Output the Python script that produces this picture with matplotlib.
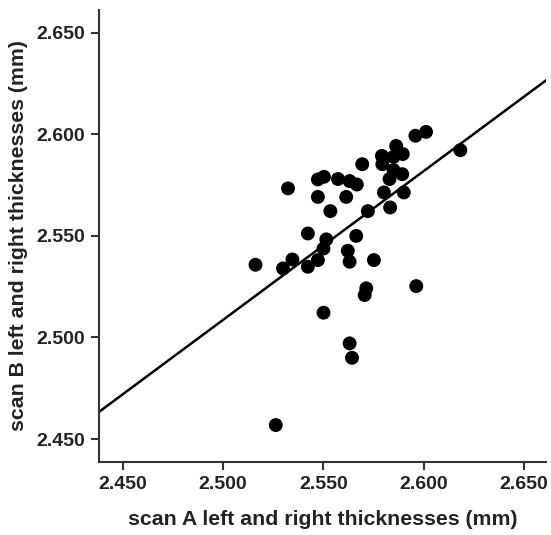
import matplotlib
matplotlib.use('Agg')
import matplotlib.pyplot as plt
import numpy as np

# scan A / scan B mean left-right thickness (mm)
scan_a = [2.5162, 2.5263, 2.5299, 2.5324, 2.5346, 2.5423, 2.5423, 2.5473,
          2.5503, 2.5473, 2.5473, 2.5501, 2.5515, 2.5501, 2.5535, 2.5573,
          2.5614, 2.5631, 2.5667, 2.5622, 2.5631, 2.5664, 2.5631, 2.5643,
          2.5694, 2.5722, 2.5714, 2.5706, 2.5752, 2.5792, 2.5794, 2.5802,
          2.5833, 2.5830, 2.5850, 2.5893, 2.5850, 2.5863, 2.5896, 2.5901,
          2.5959, 2.6012, 2.5963, 2.6183]
scan_b = [2.5358, 2.4569, 2.5340, 2.5734, 2.5384, 2.5512, 2.5348, 2.5778,
          2.5791, 2.5692, 2.5381, 2.5438, 2.5483, 2.5122, 2.5622, 2.5780,
          2.5692, 2.5770, 2.5753, 2.5427, 2.5373, 2.5500, 2.4971, 2.4900,
          2.5853, 2.5622, 2.5242, 2.5209, 2.5381, 2.5894, 2.5853, 2.5714,
          2.5640, 2.5780, 2.5824, 2.5804, 2.5889, 2.5943, 2.5903, 2.5714,
          2.5993, 2.6012, 2.5253, 2.5922]

# fit line as drawn in the reference
fit_slope = 0.7325
fit_intercept = 0.6774

ticks = [2.450, 2.500, 2.550, 2.600, 2.650]
x_lim = (2.4382, 2.661)
y_lim = (2.4387, 2.6612)

plt.rcParams['font.family'] = ['Liberation Sans', 'DejaVu Sans']
plt.rcParams['font.weight'] = 'bold'

fig = plt.figure(figsize=(5.51, 5.35), dpi=100)
ax = fig.add_axes([0.1797, 0.1364, 0.8113, 0.8449])

ax.scatter(scan_a, scan_b, s=100, color='black', edgecolors='none', zorder=3)

xs = np.array(x_lim)
ax.plot(xs, fit_intercept + fit_slope * xs, color='black', linewidth=1.8, zorder=2)

ax.set_xlim(*x_lim)
ax.set_ylim(*y_lim)
ax.set_xticks(ticks)
ax.set_yticks(ticks)
ax.set_xticklabels([f"{t:.3f}" for t in ticks])
ax.set_yticklabels([f"{t:.3f}" for t in ticks])

for side in ['top', 'right']:
    ax.spines[side].set_visible(False)
for side in ['left', 'bottom']:
    ax.spines[side].set_color('#333333')
    ax.spines[side].set_linewidth(1.5)

ax.tick_params(direction='out', length=6, width=1.5, color='#333333',
               labelsize=14, labelcolor='#222222', pad=4)
for lbl in ax.get_xticklabels() + ax.get_yticklabels():
    lbl.set_fontweight('bold')

ax.set_xlabel("scan A left and right thicknesses (mm)", fontsize=15.3,
              fontweight='bold', color='#222222', labelpad=12)
ax.set_ylabel("scan B left and right thicknesses (mm)", fontsize=15.3,
              fontweight='bold', color='#222222', labelpad=6)

fig.savefig('out.png', dpi=100, facecolor='white')
